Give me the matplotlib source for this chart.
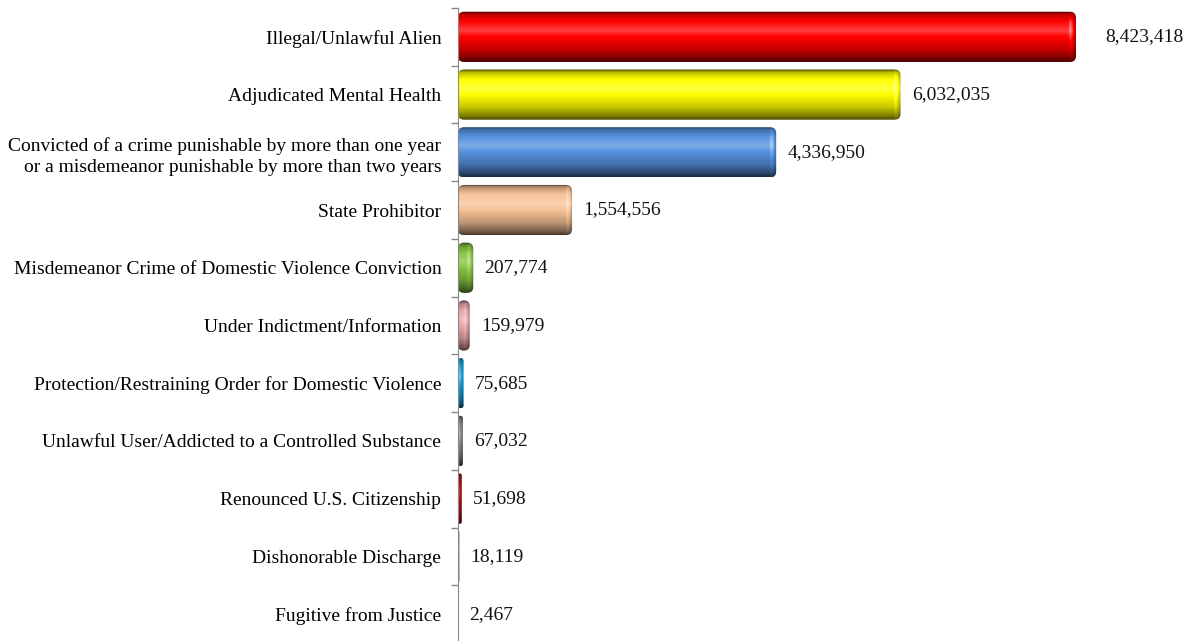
import numpy as np
import matplotlib.pyplot as plt
from matplotlib.patches import FancyBboxPatch
from matplotlib.colors import to_rgb

plt.rcParams['font.family'] = ['Liberation Serif', 'DejaVu Serif']

categories = [
    "Illegal/Unlawful Alien",
    "Adjudicated Mental Health",
    "Convicted of a crime punishable by more than one year\nor a misdemeanor punishable by more than two years",
    "State Prohibitor",
    "Misdemeanor Crime of Domestic Violence Conviction",
    "Under Indictment/Information",
    "Protection/Restraining Order for Domestic Violence",
    "Unlawful User/Addicted to a Controlled Substance",
    "Renounced U.S. Citizenship",
    "Dishonorable Discharge",
    "Fugitive from Justice",
]
values = [8423418, 6032035, 4336950, 1554556, 207774, 159979,
          75685, 67032, 51698, 18119, 2467]
colors = ['#ff0000', '#ffff00', '#5591e0', '#f8c398', '#86c440', '#e6a4a4',
          '#119fdc', '#8c8c8c', '#b81414', '#5a5a5a', '#404040']

fig = plt.figure(figsize=(11.88, 6.41), dpi=100)
ax = fig.add_axes([458 / 1188, -2 / 641, 730 / 1188, 635 / 641])

xmax = 9.95e6
ax.set_xlim(0, xmax)
ax.set_ylim(len(values) - 0.5, -0.5)

# data units per pixel in each direction
ux = xmax / 730
uy = len(values) / 635.0

bar_h = 0.87

# brightness profile across the bar, top to bottom
t_pts = [0.0, 0.06, 0.2, 0.38, 0.5, 0.75, 0.92, 1.0]
f_pts = [0.3, 0.75, 1.0, 1.1, 1.0, 0.78, 0.5, 0.3]


def shade(rgb, f):
    rgb = np.asarray(rgb)
    f = f[..., None]
    dark = rgb * f
    light = rgb + (1 - rgb) * (f - 1) * 2.5
    return np.clip(np.where(f < 1, dark, light), 0, 1)


for i, (v, c) in enumerate(zip(values, colors)):
    y0 = i - bar_h / 2
    rx = min(6 * ux, v / 2)
    box = FancyBboxPatch((0, y0), v, bar_h,
                         boxstyle=f"round,pad=0,rounding_size={rx}",
                         mutation_aspect=(6 * uy) / (6 * ux),
                         facecolor='none', edgecolor='none')
    ax.add_patch(box)

    ny = 60
    nx = max(int(v / ux) + 2, 2)
    t = np.linspace(0, 1, ny)
    fy = np.interp(t, t_pts, f_pts)
    xs = np.linspace(0, v, nx)
    d = (v - xs) / ux
    # cylinder cap: highlight a few pixels in from the end, darker at the tip
    cap = 1 + 0.12 * np.exp(-((d - 5) / 1.5) ** 2) - 0.25 * np.clip(1 - d / 3, 0, 1)
    f = fy[:, None] * cap[None, :]
    img = shade(to_rgb(c), f)
    im = ax.imshow(img, extent=(0, v, y0 + bar_h, y0), aspect='auto',
                   interpolation='bilinear', zorder=2)
    im.set_clip_path(box)

    off = 21 if v == max(values) else 8
    ax.annotate(f"{v:,}", xy=(v, i), xytext=(off, 0), textcoords='offset points',
                ha='left', va='center', fontsize=14, color='#111111')

ax.set_yticks(range(len(values)))
ax.set_yticklabels(categories, fontsize=14, linespacing=1.32)
ax.set_yticks(np.arange(-0.5, len(values)), minor=True)
ax.tick_params(axis='y', which='major', length=0, pad=12)
ax.tick_params(axis='y', which='minor', length=5, color='#888888', width=1)
ax.set_xticks([])

for s in ['top', 'right', 'bottom']:
    ax.spines[s].set_visible(False)
ax.spines['left'].set_color('#888888')
ax.spines['left'].set_zorder(3)

fig.savefig('out.png', dpi=100)
